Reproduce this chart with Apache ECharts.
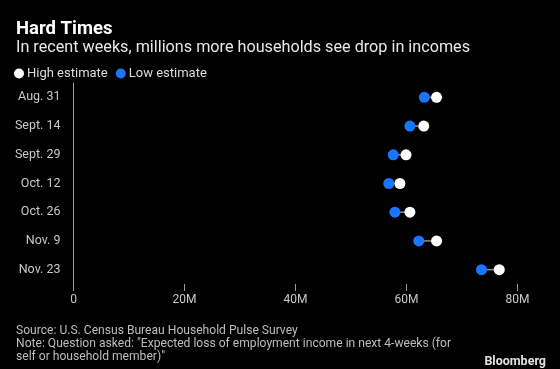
<!DOCTYPE html>
<html>
<head>
<meta charset="utf-8">
<script src="https://cdn.jsdelivr.net/npm/echarts@6/dist/echarts.min.js"></script>
<style>
html,body{margin:0;padding:0;background:#000;}
#chart{width:560px;height:369px;}
</style>
</head>
<body>
<div id="chart"></div>
<script>
const categories = ['Aug. 31', 'Sept. 14', 'Sept. 29', 'Oct. 12', 'Oct. 26', 'Nov. 9', 'Nov. 23'];
const highEstimate = [65.4, 63.1, 59.9, 58.8, 60.6, 65.4, 76.7];
const lowEstimate = [63.2, 60.6, 57.6, 56.8, 57.9, 62.2, 73.5];
const xTicks = [0, 20, 40, 60, 80];

const FONT = 'Roboto';
const chart = echarts.init(document.getElementById('chart'), null, {renderer: 'canvas'});

const rangeData = categories.map((c, i) => [lowEstimate[i], highEstimate[i], i]);

chart.setOption({
  backgroundColor: '#000',
  animation: false,
  textStyle: {fontFamily: FONT},
  title: [
    {text: 'Hard Times', left: 11, top: 15,
     textStyle: {color: '#fff', fontSize: 18.5, fontWeight: 'bold', fontFamily: FONT}},
    {text: 'In recent weeks, millions more households see drop in incomes', left: 11, top: 35,
     textStyle: {color: '#e8e8e8', fontSize: 16.2, fontWeight: 'normal', fontFamily: FONT}},
    {text: 'Source: U.S. Census Bureau Household Pulse Survey\nNote: Question asked: "Expected loss of employment income in next 4-weeks (for\nself or household member)"',
     left: 11, top: 319,
     textStyle: {color: '#bdbdbd', fontSize: 12.1, fontWeight: 'normal', lineHeight: 13.3, fontFamily: FONT}},
    {text: 'Bloomberg', right: 9, top: 350,
     textStyle: {color: '#e0e0e0', fontSize: 12.5, fontWeight: 'bold', fontFamily: FONT}}
  ],
  legend: {
    left: 9, top: 62,
    itemWidth: 10, itemHeight: 10, itemGap: 8,
    icon: 'circle',
    textStyle: {color: '#dcdcdc', fontSize: 13, fontFamily: FONT, padding: [0, 0, 0, -2]},
    data: ['High estimate', 'Low estimate']
  },
  grid: {left: 73.5, right: 42.4, top: 83, bottom: 85, containLabel: false},
  xAxis: {
    type: 'value', min: 0, max: 80, interval: 20,
    axisLine: {show: false},
    axisTick: {show: true, length: 7, lineStyle: {color: '#9a9a9a', width: 1}},
    splitLine: {show: false},
    axisLabel: {color: '#c8c8c8', fontSize: 12, margin: 10, fontFamily: FONT,
      formatter: v => (xTicks.includes(v) ? (v === 0 ? '0' : v + 'M') : '')}
  },
  yAxis: {
    type: 'category', data: categories, inverse: true,
    axisLine: {show: true, lineStyle: {color: '#9a9a9a', width: 1}},
    axisTick: {show: false},
    axisLabel: {color: '#c8c8c8', fontSize: 12.5, margin: 13, fontFamily: FONT}
  },
  series: [
    {
      type: 'custom', name: 'range', silent: true,
      data: rangeData,
      encode: {x: [0, 1], y: 2},
      renderItem: (params, api) => {
        const p1 = api.coord([api.value(0), api.value(2)]);
        const p2 = api.coord([api.value(1), api.value(2)]);
        return {type: 'line', shape: {x1: p1[0], y1: p1[1], x2: p2[0], y2: p2[1]},
                style: {stroke: '#8c8c8c', lineWidth: 1.5}};
      },
      z: 1
    },
    {
      type: 'scatter', name: 'High estimate',
      data: categories.map((c, i) => [highEstimate[i], c]),
      symbolSize: 11, itemStyle: {color: '#ffffff', opacity: 1}, z: 3
    },
    {
      type: 'scatter', name: 'Low estimate',
      data: categories.map((c, i) => [lowEstimate[i], c]),
      symbolSize: 11, itemStyle: {color: '#1a75ff', opacity: 1}, z: 3
    }
  ]
});
</script>
</body>
</html>
